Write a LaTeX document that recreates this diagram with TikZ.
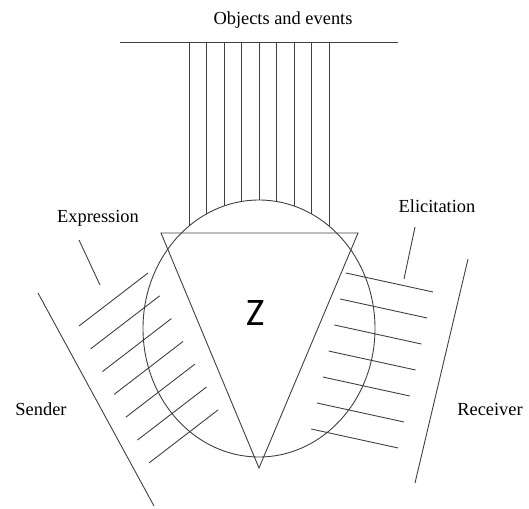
\documentclass[tikz,border=0pt]{standalone}
\usepackage{fontspec}
\setmainfont{Liberation Serif}
\newfontfamily\zfont{Carlito}
\usepackage{tikz}
\usetikzlibrary{positioning}

\begin{document}
\begin{tikzpicture}[x=0.5pt, y=-0.5pt, line width=0.45pt,
    every node/.style={font=\fontsize{9.2}{11}\selectfont},
    thinline/.style={draw=black!75}]
    \useasboundingbox (0,0) rectangle (529,508);
    % labels
    \node (objects) at (283,20) {Objects and events};
    \node (expr) at (98,218) {Expression};
    \node (elic) at (437,206) {Elicitation};
    \node (sender) at (41,409) {Sender};
    \node (receiver) at (490,409) {Receiver};
    \node[font=\zfont\fontsize{19.5}{20}\selectfont] (z) at (256,313) {Z};
    % objects and events
    \draw[thinline] (120,42) -- (398,42);
    \foreach \x in {189,206.5,224,241.5,259,276.5,294,311.5,329} {
      \pgfmathsetmacro\yend{328.5-128.5*sqrt(1-((\x-259)/116)^2)}
      \draw[thinline] (\x,42) -- (\x,\yend);
    }
    % circle and triangle
    \draw[thinline] (259,328.5) ellipse [x radius=116, y radius=128.5];
    \draw[thinline] (161,233) -- (358,233) -- (259,468) -- cycle;
    % sender side
    \draw[thinline] (79,240) -- (100,285);
    \draw[thinline] (38,293) -- (154,506);
    \foreach \i in {0,...,6}
      \draw[thinline] (79+11.7*\i,326+22.8*\i) -- ++(69,-53);
    % receiver side
    \draw[thinline] (415,227) -- (404,279);
    \draw[thinline] (468,259) -- (415,483);
    \foreach \i in {0,...,6}
      \draw[thinline] (346-5.8*\i,273+26*\i) -- ++(87,19);
  \end{tikzpicture}
\end{document}
